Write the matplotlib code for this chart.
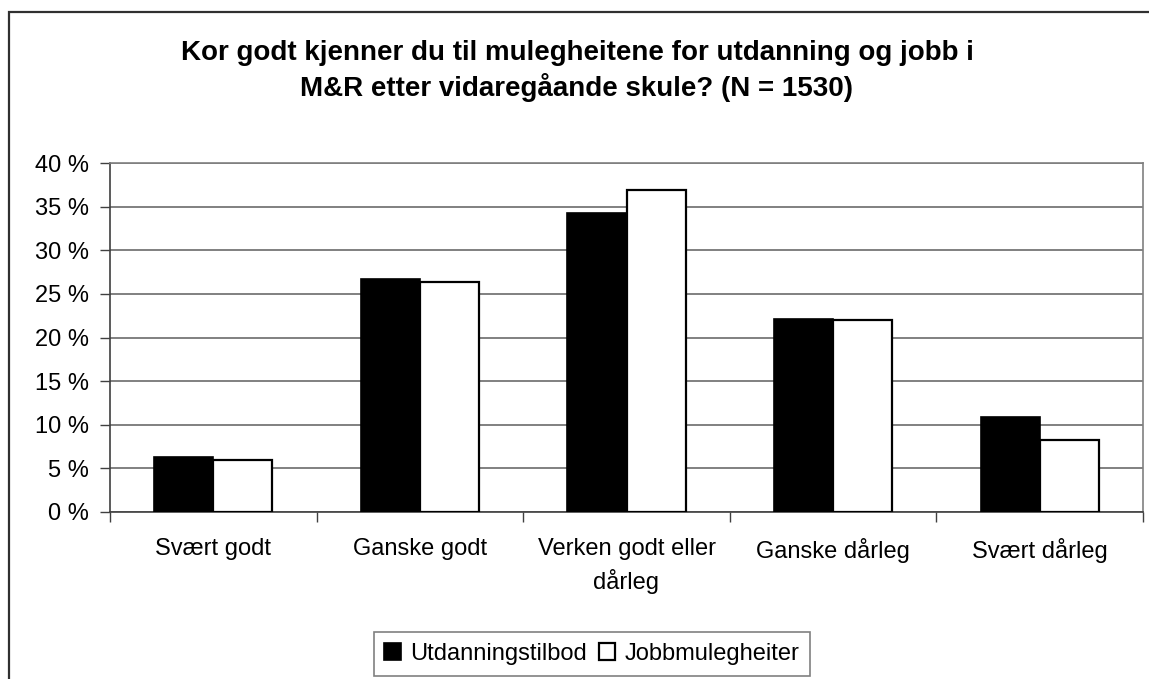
import numpy as np
import matplotlib.pyplot as plt
from matplotlib.patches import Rectangle

plt.rcParams['font.family'] = ['Liberation Sans', 'DejaVu Sans']

# --- data ---
categories = ["Svært godt", "Ganske godt", "Verken godt eller\ndårleg", "Ganske dårleg", "Svært dårleg"]
utdanning = [6.3, 26.7, 34.3, 22.1, 10.9]
jobb = [6.0, 26.4, 36.9, 22.0, 8.2]
series_names = ["Utdanningstilbod", "Jobbmulegheiter"]
yticks = [0, 5, 10, 15, 20, 25, 30, 35, 40]
title = "Kor godt kjenner du til mulegheitene for utdanning og jobb i\nM&R etter vidaregåande skule? (N = 1530)"

W, H = 1149, 679
fig = plt.figure(figsize=(W / 100, H / 100), dpi=100)

# outer chart frame (cut off on the right and bottom)
fig.patches.append(Rectangle((8.5 / W, -0.1), 1.2, 1 - 12 / H + 0.1, transform=fig.transFigure,
                             fill=False, edgecolor="#303030", linewidth=1.6))

ax = fig.add_axes([110 / W, 1 - 512 / H, (1143 - 110) / W, (512 - 163) / H])

x = np.arange(len(categories))
w = 0.286
ax.bar(x - w / 2, utdanning, w, color="black", edgecolor="black", linewidth=1.2,
       label=series_names[0], zorder=3)
ax.bar(x + w / 2, jobb, w, color="white", edgecolor="black", linewidth=1.6,
       label=series_names[1], zorder=3)

ax.set_xlim(-0.5, len(categories) - 0.5)
ax.set_ylim(0, 40)
ax.set_yticks(yticks)
ax.set_yticklabels([f"{v} %" for v in yticks], fontsize=17)
ax.yaxis.grid(True, color="#808080", linewidth=1.4, zorder=0)
ax.tick_params(axis="y", length=7, width=1, color="#404040", pad=8)

ax.set_xticks(x)
ax.set_xticklabels(categories, fontsize=17, linespacing=1.45)
ax.set_xticks(np.arange(-0.5, len(categories)), minor=True)
ax.tick_params(axis="x", which="major", length=0, pad=19)
ax.tick_params(axis="x", which="minor", length=7, width=1, color="#404040")

for side in ["top", "right"]:
    ax.spines[side].set_color("#808080")
    ax.spines[side].set_linewidth(1.2)
for side in ["left", "bottom"]:
    ax.spines[side].set_color("#404040")
    ax.spines[side].set_linewidth(1.2)

fig.text(577 / W, 1 - 71 / H, title, ha="center", va="center", fontsize=20,
         fontweight="bold", linespacing=1.3)

leg = fig.legend(loc="center", bbox_to_anchor=(592 / W, 1 - 654 / H), ncol=2, fontsize=17,
                 frameon=True, fancybox=False, edgecolor="#606060", handlelength=0.7,
                 handleheight=0.7, handletextpad=0.4, columnspacing=0.5, borderpad=0.45,
                 borderaxespad=0)
leg.get_frame().set_linewidth(1.2)

fig.savefig("out.png", dpi=100)
